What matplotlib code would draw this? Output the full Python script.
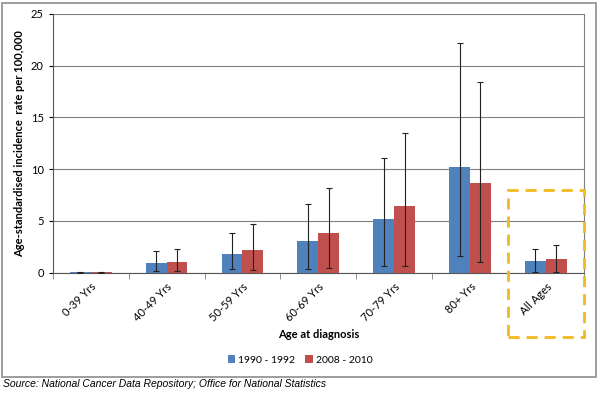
import numpy as np
import matplotlib.pyplot as plt
from matplotlib.patches import Rectangle

plt.rcParams['font.family'] = ['Lato', 'DejaVu Sans']

groups = ['0-39 Yrs', '40-49 Yrs', '50-59 Yrs', '60-69 Yrs', '70-79 Yrs', '80+ Yrs', 'All Ages']
rate_1990 = [0.05, 0.91, 1.78, 3.09, 5.2, 10.25, 1.16]
low_1990 = [0.0, 0.12, 0.33, 0.33, 0.65, 1.6, 0.02]
high_1990 = [0.1, 2.1, 3.8, 6.6, 11.1, 22.2, 2.32]
rate_2008 = [0.05, 1.0, 2.19, 3.86, 6.4, 8.65, 1.32]
low_2008 = [0.0, 0.15, 0.26, 0.45, 0.65, 1.03, 0.05]
high_2008 = [0.1, 2.26, 4.7, 8.2, 13.5, 18.45, 2.65]

fig = plt.figure(figsize=(6, 3.94), dpi=100)
ax = fig.add_axes([0.088, 0.308, 0.885, 0.657])

x = np.arange(len(groups))
w = 0.275
r1 = np.array(rate_1990)
r2 = np.array(rate_2008)
err1 = [r1 - np.array(low_1990), np.array(high_1990) - r1]
err2 = [r2 - np.array(low_2008), np.array(high_2008) - r2]

ax.bar(x - w / 2, r1, w, color='#4f81bd', label='1990 - 1992', zorder=3,
       yerr=err1, error_kw=dict(ecolor='#222222', elinewidth=0.8, capsize=2.5, capthick=0.8))
ax.bar(x + w / 2, r2, w, color='#c0504d', label='2008 - 2010', zorder=3,
       yerr=err2, error_kw=dict(ecolor='#222222', elinewidth=0.8, capsize=2.5, capthick=0.8))

ax.set_ylim(0, 25)
ax.set_xlim(-0.5, len(groups) - 0.5)
ax.set_yticks([0, 5, 10, 15, 20, 25])
ax.grid(axis='y', color='#7f7f7f', linewidth=0.8, zorder=0)
ax.set_axisbelow(True)
ax.tick_params(axis='y', labelsize=8, length=3, direction='out')

ax.set_xticks(x)
ax.set_xticklabels(groups, rotation=45, ha='right', rotation_mode='anchor', fontsize=8)
ax.tick_params(axis='x', which='major', length=0, pad=6)
ax.set_xticks(np.arange(-0.5, len(groups)), minor=True)
ax.tick_params(axis='x', which='minor', length=4, color='#7f7f7f')

ax.spines['top'].set_visible(False)
ax.spines['right'].set_color('#7f7f7f')
ax.spines['bottom'].set_color('#555555')
ax.spines['left'].set_color('#555555')

ax.set_xlabel('Age at diagnosis', fontsize=8, fontweight='bold', labelpad=4)
ax.set_ylabel('Age-standardised incidence  rate per 100,000', fontsize=8, fontweight='bold')

fig.legend(loc='center', bbox_to_anchor=(0.5, 0.086), ncol=2, frameon=False,
           fontsize=7.5, handlelength=0.75, handleheight=0.75, handletextpad=0.25,
           columnspacing=1.0)

# outer chart border
fig.patches.append(Rectangle((0.004, 1 - 377 / 394), 0.99, 374 / 394, transform=fig.transFigure,
                             fill=False, edgecolor='#8c8c8c', linewidth=1.2))

# highlight box round "All Ages"
fig.patches.append(Rectangle((508 / 600, 1 - 337 / 394), 76 / 600, 147 / 394,
                             transform=fig.transFigure, fill=False, edgecolor='#f2b91f',
                             linewidth=2, linestyle=(0, (4, 2.5)), zorder=5))

fig.text(0.005, 1 - 384 / 394, 'Source: National Cancer Data Repository; Office for National Statistics',
         fontsize=7.5, style='italic', family='Liberation Sans', va='center')

fig.savefig('out.png', dpi=100)
